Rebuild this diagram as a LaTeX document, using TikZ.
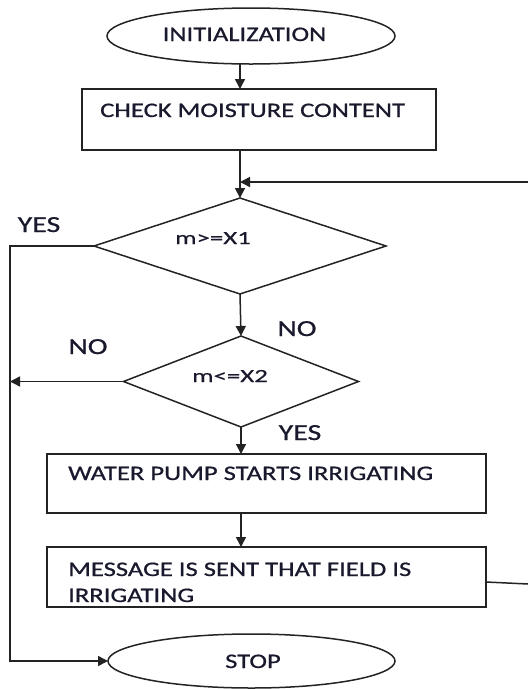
\documentclass[tikz,border=0pt]{standalone}
\usepackage{fontspec}
\setmainfont[FakeStretch=1.285,FakeBold=0.8]{Carlito}
\newfontfamily\labfont[FakeStretch=1.3,FakeBold=0.8]{Carlito}
\newfontfamily\diafont[FakeStretch=1.45,FakeBold=0.6]{Carlito}
\usetikzlibrary{shapes.geometric,arrows.meta}
\definecolor{ln}{RGB}{35,35,35}
\definecolor{tx}{RGB}{25,25,45}
\tikzset{
  shapeline/.style={draw=ln, line width=1.5pt, inner sep=0pt, outer sep=0pt},
  ellbox/.style={shapeline, ellipse},
  procbox/.style={shapeline, rectangle},
  decbox/.style={shapeline, diamond},
  boxtext/.style={inner sep=0pt, anchor=base west, text=tx, font=\fontsize{20.7}{26}\selectfont, align=left},
  labtext/.style={inner sep=0pt, anchor=base, text=tx, font=\labfont\fontsize{23}{28}\selectfont},
  diatext/.style={inner sep=0pt, anchor=base, text=tx, font=\diafont\fontsize{18.5}{22}\selectfont},
  conn/.style={draw=ln, line width=1.5pt, -{Triangle[width=10pt,length=10pt]}},
  plainline/.style={draw=ln, line width=1.5pt},
}
\begin{document}
\begin{tikzpicture}[x=1pt,y=-1pt]
\useasboundingbox (0,0) rectangle (528,689);
% shapes
\node[ellbox, minimum width=288pt, minimum height=56pt] (init) at (251,36) {};
\node[procbox, minimum width=354pt, minimum height=61pt] (check) at (259,119.5) {};
\node[decbox, minimum width=292pt, minimum height=96pt] (d1) at (240,246) {};
\node[decbox, minimum width=235pt, minimum height=91pt] (d2) at (241,381.5) {};
\node[procbox, minimum width=439pt, minimum height=59pt] (pump) at (266.5,483.5) {};
\node[procbox, minimum width=439pt, minimum height=60pt] (msg) at (266.5,577) {};
\node[ellbox, minimum width=287pt, minimum height=54pt] (stop) at (251.5,661) {};
% texts
\node[boxtext, anchor=base] (initT) at (244.5,41) {INITIALIZATION};
\node[boxtext] (checkT) at (100,117) {CHECK MOISTURE CONTENT};
\node[diatext] (d1T) at (213,244) {m>=X1};
\node[diatext] (d2T) at (230,382) {m<=X2};
\node[boxtext] (pumpT) at (68,480) {WATER PUMP STARTS IRRIGATING};
\node[boxtext] (msgT) at (68,602) {MESSAGE IS SENT THAT FIELD IS\\IRRIGATING};
\node[boxtext, anchor=base] (stopT) at (253,668) {STOP};
% labels
\node[labtext] (yes1) at (39,232) {YES};
\node[labtext] (no1) at (297,336) {NO};
\node[labtext] (no2) at (88,354) {NO};
\node[labtext] (yes2) at (300,440) {YES};
% coordinates
\coordinate (leftx) at (10,0);
\coordinate (retTop) at (528,182);
\coordinate (retBot) at (528,584);
% connectors
\draw[conn] (init.south -| d1.north) -- (check.north -| d1.north);
\draw[conn] (check.south -| d1.north) -- (d1.north);
\draw[conn] (retTop) -- (retTop -| d1.north);
\draw[conn] (d1.south) -- (d2.north);
\draw[conn] (d1.west) -- (d1.west -| leftx) -- (stop.west -| leftx) -- (stop.west);
\draw[conn] (d2.west) -- (d2.west -| leftx);
\draw[conn] (d2.south) -- (pump.north -| d2.south);
\draw[conn] (pump.south -| d2.south) -- (msg.north -| d2.south);
\draw[plainline] ([yshift=-5pt]msg.east) -- (retBot);
\end{tikzpicture}
\end{document}
